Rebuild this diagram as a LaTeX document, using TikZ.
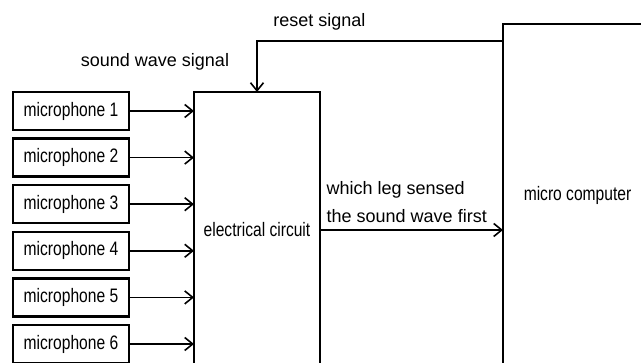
\documentclass[tikz,border=0pt]{standalone}
\usepackage{fontspec}
\setmainfont{Liberation Sans}
\newfontfamily\boxfont[FakeStretch=0.8]{Liberation Sans}
\usetikzlibrary{arrows.meta, positioning}
\tikzset{
  mic/.style ={rectangle, draw, line width=2.4pt, minimum width=116pt, minimum height=38pt, inner sep=0pt, outer sep=0pt, font=\boxfont\fontsize{19.5}{22}\selectfont},
  blk/.style ={rectangle, draw, line width=2.2pt, inner sep=0pt, outer sep=0pt, font=\boxfont\fontsize{19.5}{22}\selectfont},
  fl/.style  ={-{Straight Barb[length=8pt, width=13pt]}, line width=1.6pt},
  lbl/.style ={inner sep=0pt, font=\fontsize{18}{28}\selectfont},
}
\begin{document}
\begin{tikzpicture}[x=1pt, y=1pt, node distance=8.6pt]
  \useasboundingbox (0,0) rectangle (641,363);
  \clip (0,0) rectangle (641,363);
  \node[mic] (mic1) at (71,252) {microphone 1};
  \node[mic, below=of mic1] (mic2) {microphone 2};
  \node[mic, below=of mic2] (mic3) {microphone 3};
  \node[mic, below=of mic3] (mic4) {microphone 4};
  \node[mic, below=of mic4] (mic5) {microphone 5};
  \node[mic, below=of mic5] (mic6) {microphone 6};
  \node[blk, minimum width=126pt, minimum height=276pt] (circ) at (257,133) {electrical circuit};
  \node[blk, minimum width=149pt, minimum height=342pt] (mcu) at (577.5,168) {micro computer};
  \coordinate (rst) at (503,322);
  \draw[fl] (mic1) -- (mic1 -| circ.west);
  \draw[fl] (mic2) -- (mic2 -| circ.west);
  \draw[fl] (mic3) -- (mic3 -| circ.west);
  \draw[fl] (mic4) -- (mic4 -| circ.west);
  \draw[fl] (mic5) -- (mic5 -| circ.west);
  \draw[fl] (mic6) -- (mic6 -| circ.west);
  \draw[fl] (rst) -| (circ.north);
  \draw[fl] (circ.east) -- (circ.east -| mcu.west);
  \node[lbl] (rstlbl) at (319.5,341) {reset signal};
  \node[lbl] (swlbl) at (155,301) {sound wave signal};
  \node[lbl, anchor=west, align=left] (leglbl) at (326.5,161) {which leg sensed\\the sound wave first};
\end{tikzpicture}
\end{document}
